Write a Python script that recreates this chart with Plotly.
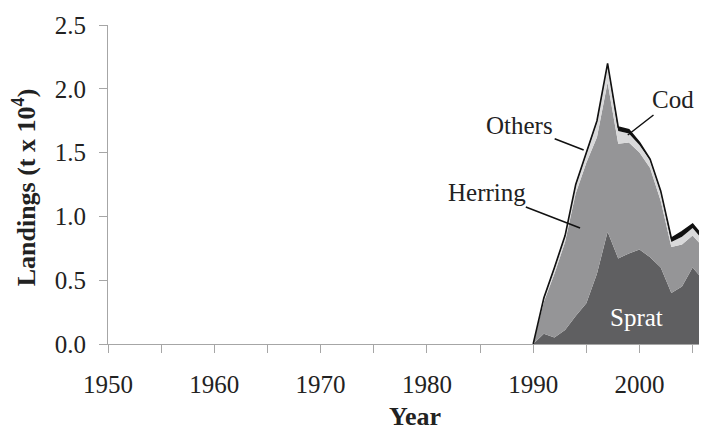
import plotly.graph_objects as go

years = list(range(1990, 2007))
sprat = [0, 0.08, 0.05, 0.11, 0.22, 0.32, 0.55, 0.88, 0.67, 0.71, 0.74, 0.68, 0.60, 0.40, 0.45, 0.60, 0.50]
herring = [0, 0.25, 0.50, 0.69, 0.96, 1.10, 1.07, 1.17, 0.90, 0.87, 0.76, 0.70, 0.52, 0.36, 0.33, 0.25, 0.26]
others = [0, 0.02, 0.04, 0.04, 0.06, 0.07, 0.12, 0.14, 0.10, 0.07, 0.06, 0.06, 0.07, 0.04, 0.06, 0.06, 0.05]
cod = [0, 0.01, 0.01, 0.01, 0.01, 0.01, 0.01, 0.01, 0.03, 0.03, 0.02, 0.01, 0.01, 0.03, 0.04, 0.03, 0.03]

x_tickvals = list(range(1950, 2006, 5))
x_ticktext = [str(v) if v % 10 == 0 else "" for v in x_tickvals]
y_tickvals = [0, 0.5, 1.0, 1.5, 2.0, 2.5]
y_ticktext = ["0.0", "0.5", "1.0", "1.5", "2.0", "2.5"]

FONT = "Liberation Serif"

fig = go.Figure()
series = [
    ("Sprat", sprat, "#5f5f61", 0, "#5f5f61"),
    ("Herring", herring, "#959597", 0, "#959597"),
    ("Others", others, "#d9d9da", 0, "#d9d9da"),
    ("Cod", cod, "#111111", 1.6, "#111111"),
]
for name, vals, fill, lw, lc in series:
    fig.add_trace(go.Scatter(
        x=years, y=vals, name=name, mode="lines", stackgroup="one",
        fillcolor=fill, line=dict(width=lw, color=lc), hoverinfo="skip",
    ))

axis_common = dict(
    showgrid=False, zeroline=False, showline=True, linecolor="#a6a6a6", linewidth=1.2,
    ticks="outside", tickcolor="#a6a6a6", ticklen=8, tickwidth=1.2, automargin=False,
    tickfont=dict(family=FONT, size=25, color="#222222"),
)

fig.update_layout(
    width=691, height=424,
    margin=dict(l=100, r=0, t=17, b=88),
    paper_bgcolor="white", plot_bgcolor="white",
    showlegend=False,
    font=dict(family=FONT, color="#222222"),
    xaxis=dict(range=[1950, 2005.6], tickvals=x_tickvals, ticktext=x_ticktext,
               ticklabelstandoff=10, **axis_common),
    yaxis=dict(range=[0, 2.5], tickvals=y_tickvals, ticktext=y_ticktext,
               ticklabelstandoff=8, **axis_common),
)

ann_font = dict(family=FONT, size=25, color="#222222")
arrow = dict(showarrow=True, arrowhead=0, arrowwidth=1.5, arrowcolor="#111111",
             standoff=0, startstandoff=0, xref="x", yref="y")
fig.add_annotation(x=1994.41, y=0.909, ax=-93, ay=-36, text="Herring", font=ann_font, **arrow)
fig.add_annotation(x=1994.75, y=1.52, ax=-64, ay=-25, text="Others", font=ann_font, **arrow)
fig.add_annotation(x=1998.9, y=1.638, ax=45, ay=-35, text="Cod", font=ann_font, **arrow)
fig.add_annotation(x=1999.74, y=0.204, text="Sprat", showarrow=False,
                   font=dict(family=FONT, size=25, color="white"), xref="x", yref="y")

fig.add_annotation(text="<b>Landings (t x 10<sup>4</sup>)</b>", textangle=-90,
                   xref="paper", yref="paper", x=-0.141, y=0.49, xanchor="center", yanchor="middle",
                   showarrow=False, font=dict(family=FONT, size=26, color="#222222"))
fig.add_annotation(text="<b>Year</b>", xref="paper", yref="paper", x=0.52, y=-0.228,
                   xanchor="center", yanchor="middle", showarrow=False,
                   font=dict(family=FONT, size=26, color="#222222"))

fig.write_html("out.html")
